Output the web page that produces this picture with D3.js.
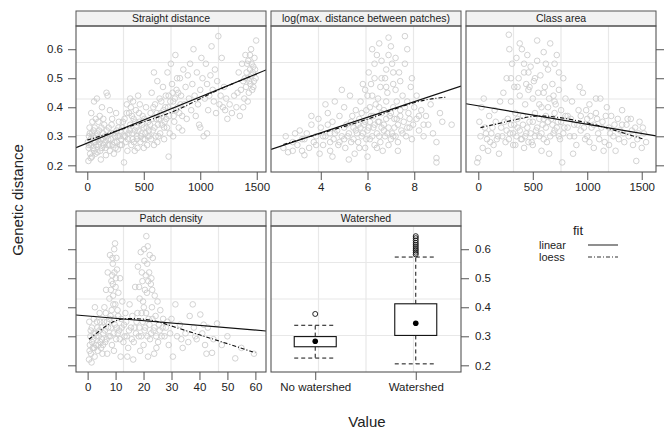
<!DOCTYPE html>
<html>
<head>
<meta charset="utf-8">
<script src="https://cdn.jsdelivr.net/npm/d3@7"></script>
<style>
  body { margin: 0; background: #fff; }
  svg { font-family: "Liberation Sans", Arial, sans-serif; }
  .tick-label { font-size: 11.5px; fill: #222; }
  .strip-label { font-size: 10.5px; fill: #222; }
</style>
</head>
<body>
<script>
// ---- data ----
let straightPts = [
  [10,0.215],[25,0.24],[15,0.27],[30,0.29],[40,0.31],[20,0.33],[50,0.26],[60,0.25],[45,0.35],[70,0.28],
  [80,0.3],[90,0.245],[100,0.27],[105,0.32],[110,0.37],[120,0.29],[130,0.26],[140,0.31],[150,0.34],[160,0.28],
  [165,0.235],[175,0.3],[180,0.27],[190,0.33],[200,0.25],[210,0.29],[220,0.36],[230,0.31],[240,0.28],[250,0.26],
  [260,0.32],[270,0.3],[280,0.35],[290,0.27],[300,0.29],[60,0.42],[85,0.43],[35,0.38],[130,0.4],[170,0.45],
  [180,0.44],[75,0.36],[200,0.39],[255,0.38],[15,0.3],[55,0.32],[95,0.29],[145,0.27],[235,0.24],[270,0.255],
  [120,0.22],[30,0.225],
  [310,0.33],[320,0.3],[330,0.36],[340,0.28],[350,0.41],[355,0.25],[365,0.31],[370,0.38],[380,0.34],[390,0.27],
  [400,0.29],[405,0.42],[410,0.36],[420,0.32],[430,0.39],[440,0.3],[445,0.26],[450,0.44],[460,0.35],[470,0.28],
  [480,0.31],[490,0.37],[500,0.33],[510,0.29],[520,0.4],[530,0.27],[540,0.35],[550,0.3],[325,0.21],[380,0.43],
  [420,0.25],[500,0.26],[345,0.32],[465,0.41],[395,0.37],[435,0.33],
  [560,0.38],[570,0.45],[580,0.32],[590,0.27],[600,0.41],[610,0.36],[620,0.49],[630,0.3],[640,0.43],[650,0.38],
  [660,0.34],[670,0.47],[680,0.29],[690,0.4],[700,0.36],[710,0.52],[720,0.44],[730,0.31],[740,0.55],[745,0.39],
  [750,0.48],[760,0.42],[770,0.35],[780,0.58],[790,0.46],[800,0.4],[810,0.33],[820,0.5],[830,0.44],[840,0.37],
  [850,0.53],[860,0.41],[870,0.47],[880,0.36],[890,0.51],[900,0.43],[720,0.23],[620,0.28],[680,0.33],[760,0.3],
  [840,0.32],[590,0.52],
  [910,0.55],[920,0.39],[930,0.48],[940,0.6],[950,0.44],[960,0.37],[970,0.52],[980,0.41],[990,0.34],[1000,0.46],
  [1010,0.57],[1020,0.5],[1030,0.3],[1040,0.43],[1050,0.55],[1060,0.48],[1070,0.39],[1080,0.44],[1090,0.51],[1100,0.61],
  [1110,0.46],[1120,0.42],[1130,0.53],[1140,0.38],[1150,0.49],[1160,0.645],[1170,0.41],[1180,0.44],[1190,0.57],[1200,0.4],
  [1210,0.47],[1220,0.39],[1230,0.43],[1240,0.36],[1000,0.33],[1060,0.31],
  [1260,0.41],[1280,0.38],[1300,0.44],[1320,0.4],[1340,0.52],[1350,0.37],[1360,0.46],[1370,0.55],[1380,0.49],[1390,0.43],
  [1400,0.58],[1405,0.47],[1410,0.52],[1420,0.5],[1425,0.56],[1430,0.45],[1440,0.53],[1445,0.48],[1450,0.6],[1455,0.51],
  [1460,0.46],[1470,0.54],[1475,0.49],[1480,0.57],[1490,0.5],[1495,0.63],[1380,0.4],[1420,0.42],[1330,0.45],[1465,0.52],
  [5,0.28],[12,0.26],[22,0.31],[35,0.27],[42,0.23],[48,0.3],[58,0.28],[65,0.33],[72,0.24],[78,0.27],
  [88,0.31],[98,0.35],[108,0.28],[115,0.25],[125,0.33],[135,0.29],[142,0.36],[155,0.3],[162,0.26],[172,0.32],
  [185,0.29],[195,0.27],[205,0.31],[215,0.34],[225,0.27],[245,0.3],[262,0.28],[275,0.33],[285,0.3],[295,0.32],
  [305,0.27],[315,0.35],[335,0.3],[348,0.38],[360,0.29],[375,0.32],[385,0.4],[398,0.31],[412,0.28],[425,0.35],
  [438,0.29],[452,0.32],[458,0.38],[475,0.3],[485,0.34],[495,0.29],[505,0.36],[515,0.31],[525,0.33],[535,0.3],
  [545,0.32],[555,0.34],[565,0.29],[575,0.36],[585,0.4],[595,0.33],[605,0.3],[615,0.38],[625,0.34],[635,0.36],
  [645,0.31],[655,0.42],[665,0.37],[675,0.39],[685,0.35],[695,0.44],[705,0.33],[715,0.4],[725,0.37],[735,0.42],
  [755,0.45],[765,0.37],[775,0.43],[785,0.39],[795,0.5],[805,0.45],[815,0.38],[825,0.41],[1395,0.5],[1415,0.55],
  [1435,0.49],[1455,0.55],[1485,0.53],[1440,0.58],[1470,0.47]
]
let logDistPts = [
  [2.4,0.26],[2.5,0.3],[2.6,0.245],[2.8,0.28],[3.0,0.27],[3.1,0.32],[3.2,0.25],[3.3,0.29],[3.4,0.31],[3.5,0.26],
  [3.6,0.34],[3.7,0.28],[3.8,0.3],[3.9,0.36],[3.95,0.24],[3.3,0.235],[3.6,0.37],[2.9,0.31],
  [4.0,0.33],[4.1,0.27],[4.2,0.3],[4.3,0.38],[4.4,0.25],[4.5,0.35],[4.55,0.29],[4.6,0.42],[4.7,0.32],[4.75,0.27],
  [4.8,0.37],[4.9,0.3],[5.0,0.4],[5.05,0.26],[5.1,0.34],[5.2,0.31],[5.25,0.44],[5.3,0.28],[5.35,0.37],[5.4,0.33],
  [5.45,0.24],[5.5,0.39],[4.2,0.41],[4.5,0.23],[4.9,0.46],[5.2,0.22],[4.4,0.31],[5.0,0.29],
  [5.55,0.31],[5.6,0.28],[5.65,0.36],[5.7,0.42],[5.75,0.3],[5.8,0.48],[5.85,0.34],[5.9,0.26],[5.95,0.39],[6.0,0.32],
  [6.05,0.52],[6.1,0.29],[6.15,0.37],[6.2,0.44],[6.25,0.33],[6.3,0.27],[6.35,0.41],[6.4,0.58],[6.45,0.35],[6.5,0.3],
  [6.55,0.47],[6.6,0.38],[6.65,0.25],[6.7,0.34],[6.75,0.5],[6.8,0.42],[6.85,0.31],[6.9,0.64],[6.95,0.37],[7.0,0.29],
  [7.05,0.55],[7.1,0.4],[7.15,0.33],[7.2,0.46],[7.25,0.36],[7.3,0.28],[7.35,0.52],[7.4,0.39],[7.45,0.32],[7.5,0.44],
  [6.2,0.6],[6.6,0.56],[7.0,0.61],[6.3,0.5],[6.8,0.53],[5.9,0.46],[7.2,0.57],[6.0,0.23],[6.4,0.26],[6.9,0.27],
  [7.3,0.25],[6.5,0.4],[6.1,0.35],[6.7,0.32],[5.7,0.33],[7.1,0.3],
  [7.55,0.35],[7.6,0.645],[7.65,0.3],[7.7,0.42],[7.75,0.38],[7.8,0.33],[7.85,0.47],[7.9,0.29],[8.0,0.4],[8.1,0.36],
  [8.2,0.32],[8.3,0.39],[8.4,0.3],[8.5,0.37],[8.6,0.34],[8.7,0.41],[8.8,0.31],[8.95,0.28],[8.95,0.225],[8.95,0.21],
  [9.1,0.38],[9.2,0.35],[9.6,0.34],[7.7,0.6],[7.6,0.55],[8.1,0.44],[7.9,0.5],
  [4.6,0.31],[4.8,0.28],[5.0,0.33],[5.15,0.3],[5.3,0.35],[5.4,0.29],[5.5,0.32],[5.6,0.34],[5.65,0.26],[5.75,0.38],
  [5.8,0.31],[5.9,0.35],[5.95,0.29],[6.05,0.33],[6.1,0.4],[6.2,0.3],[6.25,0.37],[6.3,0.34],[6.4,0.31],[6.45,0.43],
  [6.5,0.35],[6.55,0.28],[6.6,0.33],[6.7,0.39],[6.75,0.3],[6.8,0.36],[6.85,0.45],[6.9,0.33],[7.0,0.38],[7.05,0.31],
  [7.1,0.48],[7.15,0.36],[7.2,0.3],[7.25,0.42],[7.3,0.34],[7.4,0.37],[7.5,0.31],[7.6,0.4],[7.7,0.33],[7.8,0.36],
  [7.95,0.34],[8.2,0.37],[8.4,0.34],[6.3,0.55],[6.6,0.5],[6.9,0.58],[7.1,0.52],[6.5,0.62],[6.8,0.47],[7.4,0.49],
  [6.0,0.44],[6.15,0.48],[3.8,0.27],[4.1,0.3],[4.4,0.28],[4.3,0.34],[2.8,0.25],[3.2,0.29]
]
let classAreaPts = [
  [-10,0.21],[0,0.225],[10,0.35],[20,0.3],[30,0.4],[40,0.26],[60,0.33],[80,0.29],[100,0.37],[120,0.31],
  [140,0.27],[160,0.35],[180,0.3],[200,0.42],[50,0.43],[90,0.25],[150,0.39],[190,0.24],
  [210,0.33],[230,0.45],[250,0.28],[260,0.5],[270,0.36],[280,0.65],[285,0.6],[290,0.31],[300,0.42],[310,0.55],
  [320,0.27],[330,0.47],[340,0.38],[350,0.57],[360,0.33],[370,0.5],[380,0.44],[390,0.29],[400,0.6],[410,0.37],
  [420,0.52],[430,0.41],[440,0.31],[450,0.58],[460,0.46],[470,0.35],[480,0.54],[490,0.28],[500,0.43],[510,0.49],
  [520,0.38],[530,0.32],[540,0.56],[550,0.45],[560,0.3],[570,0.51],[580,0.4],[590,0.34],[600,0.59],[610,0.47],
  [620,0.37],[630,0.28],[640,0.53],[650,0.43],[660,0.62],[670,0.36],[680,0.48],[690,0.31],[700,0.55],[710,0.41],
  [720,0.58],[730,0.35],[740,0.46],[750,0.29],[760,0.39],[770,0.21],[780,0.5],[790,0.33],[800,0.43],[350,0.3],
  [420,0.26],[500,0.27],[580,0.25],[650,0.24],[440,0.48],[600,0.36],[700,0.32],[380,0.62],[620,0.55],[540,0.63],
  [470,0.47],[330,0.34],[560,0.41],
  [820,0.37],[840,0.3],[860,0.42],[880,0.34],[900,0.27],[920,0.39],[940,0.32],[960,0.45],[980,0.29],[1000,0.36],
  [1020,0.41],[1040,0.33],[1060,0.26],[1080,0.38],[1100,0.31],[1120,0.43],[1140,0.35],[1160,0.28],[1180,0.4],[1200,0.33],
  [1220,0.37],[1240,0.3],[1260,0.25],[1280,0.36],[1300,0.32],[1320,0.39],[1340,0.28],[1360,0.34],[1380,0.3],[1400,0.36],
  [1420,0.27],[1440,0.33],[1450,0.215],[1460,0.29],[1480,0.35],[1500,0.26],[1520,0.31],[1540,0.28],[1020,0.28],[1150,0.25],
  [930,0.47],[1080,0.43],[870,0.24],[1200,0.27],[1320,0.34],[990,0.39],
  [70,0.31],[110,0.28],[130,0.33],[170,0.29],[220,0.3],[240,0.35],[260,0.32],[280,0.29],[300,0.34],[320,0.31],
  [340,0.27],[360,0.36],[380,0.32],[400,0.29],[410,0.34],[430,0.3],[450,0.33],[460,0.28],[480,0.31],[500,0.35],
  [520,0.3],[540,0.33],[560,0.36],[580,0.31],[600,0.29],[620,0.33],[640,0.35],[660,0.3],[680,0.34],[700,0.38],
  [720,0.33],[740,0.3],[760,0.35],[780,0.31],[800,0.37],[820,0.33],[850,0.36],[880,0.3],[910,0.34],[940,0.37],
  [970,0.33],[1000,0.3],[1030,0.37],[1060,0.34],[1090,0.36],[1110,0.29],[1130,0.33],[1170,0.37],[1210,0.31],[1250,0.34],
  [1290,0.29],[1330,0.31],[1370,0.36],[1410,0.32],[1470,0.31],[1510,0.33],[420,0.55],[460,0.52],[520,0.5],[600,0.45],
  [690,0.44],[740,0.52],[360,0.47],[300,0.5],[640,0.4],[700,0.42]
]
let patchDensPts = [
  [0.5,0.22],[0.8,0.27],[1,0.3],[1.2,0.24],[1.5,0.33],[1.8,0.26],[2,0.29],[2.2,0.36],[2.5,0.23],[2.8,0.31],
  [3,0.27],[3.3,0.35],[3.6,0.25],[4,0.3],[4.3,0.38],[4.6,0.28],[5,0.33],[5.3,0.24],[0.6,0.35],[2.6,0.4],
  [1.4,0.21],[4.8,0.26],
  [5.6,0.31],[6,0.4],[6.3,0.28],[6.6,0.46],[6.9,0.35],[7.2,0.52],[7.5,0.3],[7.8,0.43],[8,0.58],[8.2,0.37],
  [8.5,0.49],[8.7,0.27],[9,0.55],[9.2,0.41],[9.5,0.6],[9.7,0.34],[9.8,0.62],[10,0.47],[10.2,0.29],[10.5,0.53],
  [10.7,0.39],[11,0.45],[11.3,0.32],[11.6,0.5],[12,0.36],[12.4,0.42],[12.8,0.28],[13,0.34],[8.8,0.51],[10.3,0.57],
  [7,0.24],[9.4,0.25],[11.8,0.23],[8.4,0.33],[10.8,0.31],[9.1,0.44],
  [13.5,0.38],[14,0.3],[14.5,0.26],[15,0.41],[15.5,0.33],[16,0.37],[16.5,0.28],[17,0.47],[14.2,0.23],[16.3,0.22],
  [17.5,0.35],[18,0.54],[18.3,0.3],[18.6,0.43],[19,0.59],[19.3,0.38],[19.6,0.49],[20,0.27],[20.3,0.56],[20.6,0.33],
  [21,0.645],[21.2,0.45],[21.5,0.61],[21.8,0.36],[22,0.52],[22.3,0.29],[22.6,0.48],[23,0.4],[23.3,0.57],[23.6,0.32],
  [24,0.44],[24.3,0.37],[24.6,0.26],[25,0.42],[25.5,0.34],[26,0.39],[26.5,0.3],[27,0.36],[19.8,0.42],[22.8,0.5],
  [20.8,0.51],[18.8,0.25],[23.8,0.24],[21.6,0.23],[25.2,0.28],[20.1,0.4],
  [28,0.33],[29,0.27],[30,0.36],[31.4,0.41],[32,0.3],[33,0.34],[34,0.26],[35,0.31],[36,0.28],[37.6,0.41],
  [38,0.33],[39,0.29],[40.3,0.375],[41,0.31],[42,0.27],[43,0.33],[44.5,0.243],[45,0.29],[46.3,0.344],[48,0.27],
  [50,0.3],[52.8,0.224],[55,0.26],[59.5,0.24],[30.5,0.23],[36.5,0.37],[42.5,0.24],
  [0.7,0.25],[1.1,0.32],[1.6,0.28],[2.1,0.31],[2.4,0.26],[3.1,0.3],[3.5,0.33],[3.9,0.27],[4.2,0.32],[4.5,0.35],
  [5.1,0.29],[5.5,0.27],[5.8,0.35],[6.2,0.32],[6.5,0.38],[6.8,0.29],[7.3,0.33],[7.7,0.36],[8.1,0.3],[8.6,0.39],
  [9.3,0.31],[9.6,0.36],[9.9,0.41],[10.4,0.33],[10.9,0.37],[11.5,0.29],[12.2,0.33],[13.2,0.3],[13.8,0.35],[14.8,0.32],
  [15.8,0.29],[16.8,0.33],[17.3,0.31],[17.8,0.38],[18.5,0.33],[19.2,0.3],[19.7,0.35],[20.4,0.32],[20.9,0.38],[21.4,0.3],
  [22.1,0.34],[22.7,0.31],[23.2,0.36],[23.9,0.33],[24.5,0.3],[25.8,0.32],[26.8,0.33],[27.5,0.3],[28.5,0.35],[29.5,0.31],
  [8.3,0.46],[9.0,0.48],[9.6,0.52],[8.9,0.57],[10.1,0.5],[19.4,0.52],[20.5,0.46],[21.3,0.55],[22.2,0.58],[20.2,0.6],
  [21.7,0.49],[23.1,0.46],[18.4,0.47],[33.5,0.29],[38.5,0.3],[41.5,0.34]
]

// linear fits: [intercept, slope]
let straightLinear = [0.277, 0.000159]
let logDistLinear = [0.205, 0.0268]
let classAreaLinear = [0.405, -0.0000637]
let patchDensLinear = [0.370, -0.00081]

// loess curves
let straightLoess = [[0,0.287],[200,0.31],[400,0.338],[600,0.362],[800,0.39],[1000,0.43],[1200,0.468],[1500,0.515]]
let logDistLoess = [[2.4,0.272],[3.5,0.298],[4.5,0.322],[5.5,0.345],[6.5,0.373],[7.5,0.405],[8.5,0.428],[9.4,0.435]]
let classAreaLoess = [[20,0.33],[200,0.345],[400,0.363],[550,0.372],[700,0.368],[900,0.355],[1100,0.338],[1300,0.315],[1520,0.29]]
let patchDensLoess = [[0.5,0.29],[5,0.325],[10,0.358],[15,0.362],[20,0.36],[25,0.352],[30,0.335],[40,0.305],[50,0.275],[60,0.243]]

// watershed box plot
let boxCats = ["No watershed", "Watershed"]
let boxLow = [0.225, 0.205]
let boxQ1 = [0.264, 0.303]
let boxMed = [0.283, 0.345]
let boxQ3 = [0.299, 0.412]
let boxHigh = [0.338, 0.573]
let boxOut = [[0.377], [0.582, 0.588, 0.595, 0.601, 0.608, 0.615, 0.622, 0.63, 0.638, 0.645]]

let yTicks = [0.2, 0.3, 0.4, 0.5, 0.6]
let stripTitles = ["Straight distance", "log(max. distance between patches)", "Class area", "Patch density", "Watershed"]

// ---- layout ----
let svgWidth = 669
let svgHeight = 430
let colX = [76, 271, 466]
let panelW = 190
let rowTop = [26, 226]
let panelH = 146
let stripH = 15
let frameColor = "#555"

let svg = d3.select("body").append("svg")
    .attr("width", svgWidth)
    .attr("height", svgHeight)

let yScales = rowTop.map(function (t) {
    return d3.scaleLinear().domain([0.177, 0.68]).range([t + panelH, t])
})

let panels = [
    { col: 0, row: 0, pts: straightPts, lin: straightLinear, loess: straightLoess, domain: [-100, 1582], ticks: [0, 500, 1000, 1500], yLeft: true },
    { col: 1, row: 0, pts: logDistPts, lin: logDistLinear, loess: logDistLoess, domain: [1.87, 10.0], ticks: [4, 6, 8] },
    { col: 2, row: 0, pts: classAreaPts, lin: classAreaLinear, loess: classAreaLoess, domain: [-113, 1631], ticks: [0, 500, 1000, 1500], yRight: true },
    { col: 0, row: 1, pts: patchDensPts, lin: patchDensLinear, loess: patchDensLoess, domain: [-4.16, 63.8], ticks: [0, 10, 20, 30, 40, 50, 60], yLeft: true, noYLabels: true }
]

function drawFrame(i, x0, top) {
    let g = svg.append("g")
    // grid: 3 interior lines each way
    for (let k = 1; k < 4; k++) {
        g.append("line").attr("x1", x0 + panelW * k / 4).attr("x2", x0 + panelW * k / 4)
            .attr("y1", top).attr("y2", top + panelH)
            .attr("stroke", "#e8e8e8").attr("stroke-width", 1.2)
        g.append("line").attr("x1", x0).attr("x2", x0 + panelW)
            .attr("y1", top + panelH * k / 4).attr("y2", top + panelH * k / 4)
            .attr("stroke", "#e8e8e8").attr("stroke-width", 1.2)
    }
    // strip
    svg.append("rect").attr("x", x0).attr("y", top - stripH).attr("width", panelW).attr("height", stripH)
        .attr("fill", "#f2f2f2").attr("stroke", frameColor).attr("stroke-width", 1)
    svg.append("text").attr("class", "strip-label")
        .attr("x", x0 + panelW / 2).attr("y", top - stripH / 2).attr("dy", "0.36em")
        .attr("text-anchor", "middle").text(stripTitles[i])
    svg.append("clipPath").attr("id", "clip" + i)
        .append("rect").attr("x", x0).attr("y", top).attr("width", panelW).attr("height", panelH)
}

function drawBorder(x0, top) {
    svg.append("rect").attr("x", x0).attr("y", top).attr("width", panelW).attr("height", panelH)
        .attr("fill", "none").attr("stroke", frameColor).attr("stroke-width", 1.1)
}

function styleAxis(ax) {
    ax.select(".domain").remove()
    ax.selectAll(".tick line").attr("stroke", frameColor)
    ax.selectAll(".tick text").attr("class", "tick-label").attr("font-family", null).attr("font-size", null)
}

panels.forEach(function (p, i) {
    let x0 = colX[p.col]
    let top = rowTop[p.row]
    let y = yScales[p.row]
    let x = d3.scaleLinear().domain(p.domain).range([x0, x0 + panelW])
    drawFrame(i, x0, top)

    let g = svg.append("g").attr("clip-path", "url(#clip" + i + ")")
    g.selectAll("circle").data(p.pts).enter().append("circle")
        .attr("cx", function (d) { return x(d[0]) })
        .attr("cy", function (d) { return y(d[1]) })
        .attr("r", 2.8)
        .attr("fill", "none")
        .attr("stroke", "#cdcdcd")
        .attr("stroke-width", 0.9)

    g.append("line")
        .attr("x1", x(p.domain[0])).attr("y1", y(p.lin[0] + p.lin[1] * p.domain[0]))
        .attr("x2", x(p.domain[1])).attr("y2", y(p.lin[0] + p.lin[1] * p.domain[1]))
        .attr("stroke", "#111").attr("stroke-width", 1.2)

    g.append("path").datum(p.loess)
        .attr("d", d3.line().curve(d3.curveBasis).x(function (d) { return x(d[0]) }).y(function (d) { return y(d[1]) }))
        .attr("fill", "none").attr("stroke", "#111").attr("stroke-width", 1.1)
        .attr("stroke-dasharray", "4,2,1,2")

    drawBorder(x0, top)

    let xa = svg.append("g").attr("transform", "translate(0," + (top + panelH) + ")")
        .call(d3.axisBottom(x).tickValues(p.ticks).tickSize(8).tickPadding(3).tickFormat(d3.format("d")))
    styleAxis(xa)

    if (p.yLeft) {
        let ya = svg.append("g").attr("transform", "translate(" + x0 + ",0)")
            .call(d3.axisLeft(y).tickValues(yTicks).tickSize(8).tickPadding(5)
                .tickFormat(p.noYLabels ? "" : d3.format(".1f")))
        styleAxis(ya)
    }
    if (p.yRight) {
        let ya = svg.append("g").attr("transform", "translate(" + (x0 + panelW) + ",0)")
            .call(d3.axisRight(y).tickValues(yTicks).tickSize(8).tickFormat(""))
        styleAxis(ya)
    }
})

// ---- watershed box plot panel ----
let bx0 = colX[1]
let btop = rowTop[1]
let by = yScales[1]
let bxScale = d3.scaleLinear().domain([0.56, 2.45]).range([bx0, bx0 + panelW])
drawFrame(4, bx0, btop)
let boxHalf = 21
let bg = svg.append("g")
boxCats.forEach(function (c, i) {
    let cx = bxScale(i + 1)
    // whiskers
    bg.append("line").attr("x1", cx).attr("x2", cx).attr("y1", by(boxQ3[i])).attr("y2", by(boxHigh[i]))
        .attr("stroke", "#111").attr("stroke-dasharray", "4,3")
    bg.append("line").attr("x1", cx).attr("x2", cx).attr("y1", by(boxQ1[i])).attr("y2", by(boxLow[i]))
        .attr("stroke", "#111").attr("stroke-dasharray", "4,3")
    ;[boxHigh[i], boxLow[i]].forEach(function (v) {
        bg.append("line").attr("x1", cx - boxHalf).attr("x2", cx + boxHalf).attr("y1", by(v)).attr("y2", by(v))
            .attr("stroke", "#111").attr("stroke-dasharray", "4,3")
    })
    bg.append("rect").attr("x", cx - boxHalf).attr("width", boxHalf * 2)
        .attr("y", by(boxQ3[i])).attr("height", by(boxQ1[i]) - by(boxQ3[i]))
        .attr("fill", "#fff").attr("stroke", "#111").attr("stroke-width", 1.1)
    bg.append("circle").attr("cx", cx).attr("cy", by(boxMed[i])).attr("r", 2.8).attr("fill", "#000")
    boxOut[i].forEach(function (v) {
        bg.append("circle").attr("cx", cx).attr("cy", by(v)).attr("r", 2.5)
            .attr("fill", "none").attr("stroke", "#111").attr("stroke-width", 0.9)
    })
})
drawBorder(bx0, btop)
let bxa = svg.append("g").attr("transform", "translate(0," + (btop + panelH) + ")")
    .call(d3.axisBottom(bxScale).tickValues([1, 2]).tickSize(8).tickPadding(3)
        .tickFormat(function (d) { return boxCats[d - 1] }))
styleAxis(bxa)
let bya = svg.append("g").attr("transform", "translate(" + (bx0 + panelW) + ",0)")
    .call(d3.axisRight(by).tickValues(yTicks).tickSize(8).tickPadding(6).tickFormat(d3.format(".1f")))
styleAxis(bya)

// ---- axis titles ----
svg.append("text")
    .attr("transform", "translate(23,200) rotate(-90)")
    .attr("text-anchor", "middle")
    .attr("font-size", 15).attr("fill", "#222")
    .text("Genetic distance")
svg.append("text")
    .attr("x", 367).attr("y", 427)
    .attr("text-anchor", "middle")
    .attr("font-size", 15).attr("fill", "#222")
    .text("Value")

// ---- legend ----
let lg = svg.append("g")
lg.append("text").attr("x", 578).attr("y", 235).attr("text-anchor", "middle")
    .attr("font-size", 13).attr("fill", "#222").text("fit")
let legendItems = [["linear", null], ["loess", "4,2,1,2"]]
legendItems.forEach(function (d, i) {
    let yy = 245 + i * 12
    lg.append("text").attr("x", 539).attr("y", yy).attr("dy", "0.35em")
        .attr("font-size", 11).attr("fill", "#222").text(d[0])
    lg.append("line").attr("x1", 588).attr("x2", 618).attr("y1", yy).attr("y2", yy)
        .attr("stroke", "#333").attr("stroke-width", 1.1)
        .attr("stroke-dasharray", d[1])
})
</script>
</body>
</html>
